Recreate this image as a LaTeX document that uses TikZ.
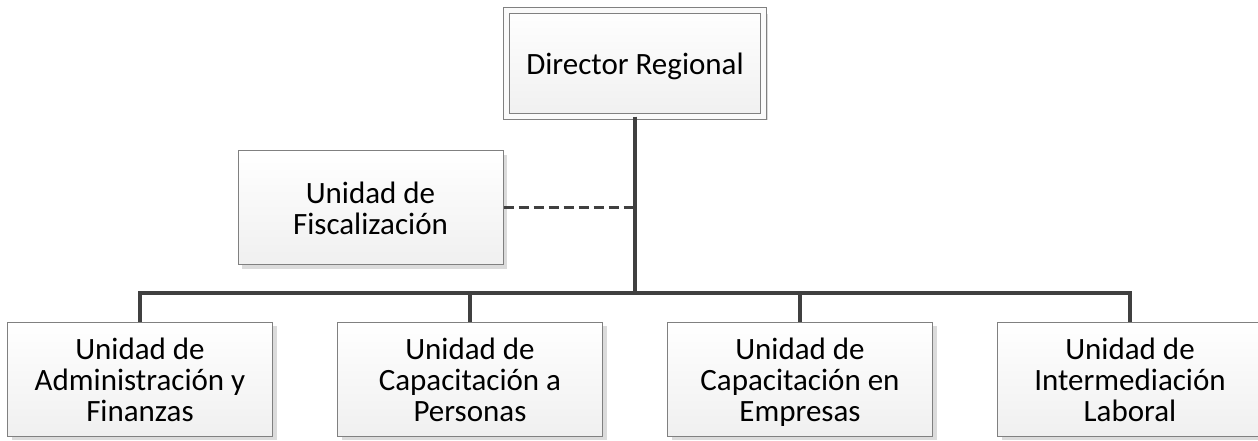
\documentclass[tikz,border=0pt]{standalone}
\usepackage{fontspec}
\setmainfont{Carlito}
\usetikzlibrary{shadows}
\definecolor{boxline}{gray}{0.5}
\definecolor{linkcolor}{gray}{0.25}
\definecolor{shadowcolor}{gray}{0.86}

\begin{document}
\begin{tikzpicture}[
	unit/.style={rectangle, draw=boxline, line width=1pt, top color=white,
		bottom color=gray!12, align=center, inner sep=4pt,
		minimum width=265pt, minimum height=114pt, text depth=0pt,
		drop shadow={shadow xshift=4pt, shadow yshift=-4pt,
			fill=shadowcolor, opacity=1}},
	head/.style={unit, double=gray!4, double distance=4.5pt,
		minimum width=257pt, minimum height=106pt},
	trunk/.style={draw=linkcolor, line width=3.5pt},
	dotted link/.style={draw=linkcolor, line width=3pt, dash pattern=on 10pt off 5pt},
	node distance=316pt,
	every node/.style={font=\fontsize{31}{31}\selectfont},
]
\useasboundingbox (0,0) rectangle (1258pt,441pt);
% \connect{child}: down from the director to the bus, then across to child.
\def\connect#1{
	\draw[trunk] (top.south) -- (bus) -| (#1.north);
}
	\node[head] at (635pt,377.5pt) (top) {Director Regional};
	\path (top.south) ++(0,-176pt) coordinate (bus);

	\node[unit, below of=top, xshift=-264.5pt, yshift=171.5pt](FIS)
		{Unidad de\\Fiscalización};
	\draw[dotted link] (FIS.east) -- (FIS.east -| top.south);

	\node[unit, below of=top, xshift=-495pt](UAF)
		{Unidad de\\Administración y\\Finanzas};
	\node[unit, below of=top, xshift=-165pt](UCP)
		{Unidad de\\Capacitación a\\Personas};
	\node[unit, below of=top, xshift=165pt](UCE)
		{Unidad de\\Capacitación en\\Empresas};
	\node[unit, below of=top, xshift=495pt](UIL)
		{Unidad de\\Intermediación\\Laboral};
	\connect{UAF}
	\connect{UCP}
	\connect{UCE}
	\connect{UIL}
\end{tikzpicture}
\end{document}
